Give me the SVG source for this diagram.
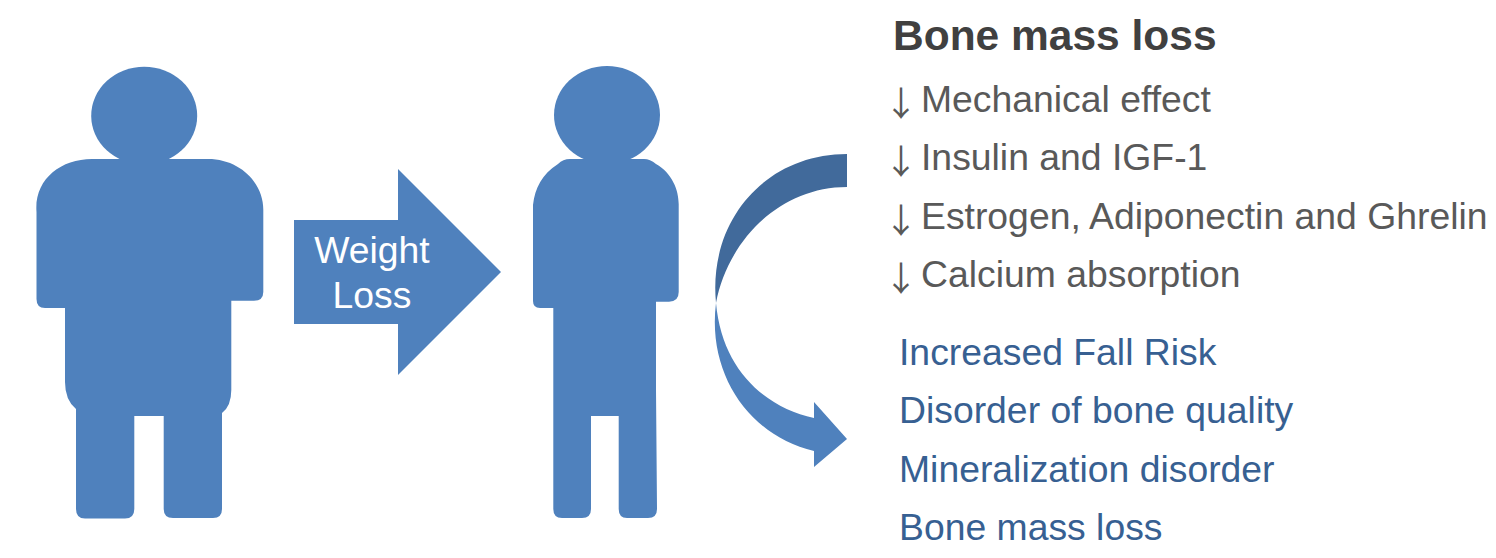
<svg xmlns="http://www.w3.org/2000/svg" width="1496" height="558" viewBox="0 0 1496 558">
<style>
.fig{fill:#4f81bd}
text{font-family:"Liberation Sans",Arial,sans-serif}
.t{font-size:37.33px;fill:#595959}
.a{font-size:34px;fill:#595959;font-family:"Noto Sans CJK JP","Liberation Serif",serif}
.b{font-size:37.33px;fill:#376092}
.w{font-size:37.33px;fill:#fff;text-anchor:middle}
</style>
<rect width="1496" height="558" fill="#fff"/>
<g id="person-before">
<ellipse class="fig" cx="144.200" cy="115.700" rx="53" ry="49"/>
<path class="fig" d="M92 159H208C240 159 263.500 183 263.300 210V292Q263.300 300.700 254 300.700H231.300V390Q231.300 406 222 413V509Q222 518 213 518H173Q163.700 518 163.700 509V416H134.300V509Q134.300 518.500 125 518.500H85Q76 518.500 76 509V409Q65 400 65 382V308H45Q36.500 308 36.500 299V212C34 180 60 159 92 159Z"/>
</g>
<g id="weight-loss-arrow">
<path class="fig" d="M294 220H398V169L501 272L398 375V324H294Z"/>
<text class="w" x="372" y="263">Weight</text>
<text class="w" x="372" y="308">Loss</text>
</g>
<g id="person-after">
<ellipse class="fig" cx="607" cy="115" rx="53" ry="49"/>
<path class="fig" d="M570 159H644Q650 159 656 164C672 173 678.700 190 678.700 204V292Q678.700 301.700 669 301.700H656V390L657 509Q657 518 648 518H627Q618.700 518 618.700 509V416H591V509Q591 518 582 518H562Q553.300 518 553.300 509V308H540Q533 308 533 301V205C535 188 542 174 558 164Q563 159 570 159Z"/>
</g>
<g id="connectors">
<path d="M847 154V187C780 187 728 240 716 303C708 220 766 154 847 154Z" fill="#416a9b"/>
<path class="fig" d="M716 303C722 370 765 407 814 418V402L847 439L814 467V451C750 436 707 375 716 303Z"/>
</g>
<g id="bone-mass-loss-causes">
<text x="893" y="50" font-size="42.500" font-weight="700" fill="#404040">Bone mass loss</text>
<text class="a" x="884" y="115.500">↓</text><text class="t" x="921" y="112">Mechanical effect</text>
<text class="a" x="884" y="173.500">↓</text><text class="t" x="921" y="170">Insulin and IGF-1</text>
<text class="a" x="884" y="232.500">↓</text><text class="t" x="921" y="229">Estrogen, Adiponectin and Ghrelin</text>
<text class="a" x="884" y="290.500">↓</text><text class="t" x="921" y="287">Calcium absorption</text>
</g>
<g id="consequences">
<text class="b" x="899" y="365">Increased Fall Risk</text>
<text class="b" x="899" y="423">Disorder of bone quality</text>
<text class="b" x="899" y="482">Mineralization disorder</text>
<text class="b" x="899" y="540">Bone mass loss</text>
</g>
</svg>
